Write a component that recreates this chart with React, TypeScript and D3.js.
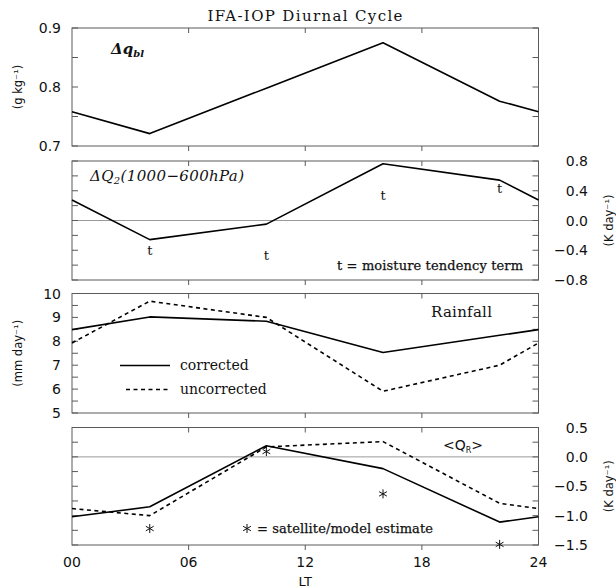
import React from "react";
import * as d3 from "d3";

// ---------- data ----------
const HOURS = [0, 4, 10, 16, 22, 24];
const OBS_HOURS = [4, 10, 16, 22];
const X_TICKS = [0, 6, 12, 18, 24];
const X_TICK_LABELS = ["00", "06", "12", "18", "24"];

const DQBL = [0.758, 0.721, 0.798, 0.875, 0.776, 0.758];
const DQ2 = [0.276, -0.257, -0.049, 0.764, 0.543, 0.276];
const TENDENCY = [-0.4, -0.47, 0.34, 0.43];
const RAIN_CORR = [8.49, 9.02, 8.84, 7.53, 8.25, 8.49];
const RAIN_UNCORR = [7.93, 9.68, 9.0, 5.91, 7.0, 7.93];
const QR_CORR = [-1.02, -0.85, 0.19, -0.2, -1.11, -1.02];
const QR_UNCORR = [-0.88, -1.0, 0.17, 0.26, -0.79, -0.88];
const QR_SAT = [-1.22, 0.09, -0.63, -1.49];

const P1_TICKS = [0.7, 0.75, 0.8, 0.85, 0.9];
const P1_LABELS = [0.7, 0.8, 0.9];
const P2_TICKS = [-0.8, -0.6, -0.4, -0.2, 0, 0.2, 0.4, 0.6, 0.8];
const P2_LABELS = [-0.8, -0.4, 0, 0.4, 0.8];
const P3_TICKS = [5, 5.5, 6, 6.5, 7, 7.5, 8, 8.5, 9, 9.5, 10];
const P3_LABELS = [5, 6, 7, 8, 9, 10];
const P4_TICKS = [-1.5, -1.25, -1, -0.75, -0.5, -0.25, 0, 0.25, 0.5];
const P4_LABELS = [-1.5, -1, -0.5, 0, 0.5];

// ---------- layout ----------
const W = 616;
const H = 588;
const X0 = 72;
const X1 = 538.5;
const BORDER = "#5a5a5a";
const SANS = "DejaVu Sans";
const SERIF = "DejaVu Serif";

const x = d3.scaleLinear().domain([0, 24]).range([X0, X1]);

const y1 = d3.scaleLinear().domain([0.7, 0.9]).range([146, 28]);
const y2 = d3.scaleLinear().domain([-0.8, 0.8]).range([280, 161]);
const y3 = d3.scaleLinear().domain([5, 10]).range([413, 293.5]);
const y4 = d3.scaleLinear().domain([-1.5, 0.5]).range([545, 427.5]);

const fmt1 = d3.format(".1f");

function Frame({ y, ticks, zero }: { y: d3.ScaleLinear<number, number>; ticks: number[]; zero?: boolean }) {
  const [b, t] = y.range();
  return (
    <g>
      {zero && <line x1={X0} x2={X1} y1={y(0)} y2={y(0)} stroke="#9a9a9a" strokeWidth={1} />}
      <rect x={X0} y={t} width={X1 - X0} height={b - t} fill="none" stroke={BORDER} strokeWidth={1} />
      {ticks.map((v) => (
        <g key={"yt" + v}>
          <line x1={X0} x2={X0 + 6} y1={y(v)} y2={y(v)} stroke={BORDER} />
          <line x1={X1 - 6} x2={X1} y1={y(v)} y2={y(v)} stroke={BORDER} />
        </g>
      ))}
      {X_TICKS.slice(1, -1).map((h) => (
        <g key={"xt" + h}>
          <line x1={x(h)} x2={x(h)} y1={t} y2={t + 5} stroke={BORDER} />
          <line x1={x(h)} x2={x(h)} y1={b} y2={b + 5} stroke={BORDER} />
        </g>
      ))}
    </g>
  );
}

function Asterisk({ cx, cy, r = 4.5 }: { cx: number; cy: number; r?: number }) {
  const arms = [90, 30, 150].map((a) => {
    const rad = (a * Math.PI) / 180;
    const dx = r * Math.cos(rad);
    const dy = r * Math.sin(rad);
    return `M${cx - dx},${cy - dy}L${cx + dx},${cy + dy}`;
  });
  return <path d={arms.join("")} stroke="#111" strokeWidth={1} fill="none" />;
}

export default function App() {
  const line = (y: d3.ScaleLinear<number, number>, vals: number[]) =>
    d3
      .line<number>()
      .x((_, i) => x(HOURS[i]))
      .y((v) => y(v))(vals) as string;

  const lineStyle = { fill: "none", stroke: "#000", strokeWidth: 1.6, strokeLinejoin: "round" as const };
  const dash = "4,3.5";

  return (
    <svg width={W} height={H} style={{ position: "absolute", left: 0, top: 0, background: "#fff" }}>
      {/* title */}
      <text x={305} y={21} textAnchor="middle" fontFamily={SERIF} fontSize={15} textLength={195} lengthAdjust="spacing" fill="#111">
        IFA-IOP Diurnal Cycle
      </text>

      {/* Panel 1 */}
      <Frame y={y1} ticks={P1_TICKS} />
      {P1_LABELS.map((v) => (
        <text key={v} x={61} y={y1(v) + 5} textAnchor="end" fontFamily={SANS} fontSize={14} fill="#111">
          {fmt1(v)}
        </text>
      ))}
      <text transform={`translate(22,${y1(0.8)}) rotate(-90)`} textAnchor="middle" fontFamily={SANS} fontSize={11.5} fill="#111">
        (g kg⁻¹)
      </text>
      <path d={line(y1, DQBL)} {...lineStyle} />
      <text x={111} y={54} fontFamily={SERIF} fontSize={15} fontStyle="italic" fontWeight="bold" fill="#111">
        Δq<tspan fontSize={10} dy={3}>bl</tspan>
      </text>

      {/* Panel 2 */}
      <Frame y={y2} ticks={P2_TICKS} zero />
      {P2_LABELS.map((v) => (
        <text key={v} x={588} y={y2(v) + 5} textAnchor="end" fontFamily={SANS} fontSize={14} fill="#111">
          {fmt1(v)}
        </text>
      ))}
      <text transform={`translate(613,${y2(0)}) rotate(-90)`} textAnchor="middle" fontFamily={SANS} fontSize={11.5} fill="#111">
        (K day⁻¹)
      </text>
      <path d={line(y2, DQ2)} {...lineStyle} />
      {OBS_HOURS.map((h, i) => (
        <text key={h} x={x(h)} y={y2(TENDENCY[i]) + 4.5} textAnchor="middle" fontFamily={SERIF} fontSize={13} fill="#111">
          t
        </text>
      ))}
      <text x={90} y={181} fontFamily={SERIF} fontSize={15} fontStyle="italic" textLength={154} lengthAdjust="spacing" fill="#111">
        ΔQ<tspan fontSize={10} dy={3}>2</tspan><tspan dy={-3}>(1000−600hPa)</tspan>
      </text>
      <text x={337} y={270} fontFamily={SERIF} fontSize={13} textLength={186} lengthAdjust="spacing" fill="#111" stroke="#111" strokeWidth={0.25}>
        t = moisture tendency term
      </text>

      {/* Panel 3 */}
      <Frame y={y3} ticks={P3_TICKS} />
      {P3_LABELS.map((v) => (
        <text key={v} x={61} y={y3(v) + 5} textAnchor="end" fontFamily={SANS} fontSize={14} fill="#111">
          {v}
        </text>
      ))}
      <text transform={`translate(22,${y3(7.5)}) rotate(-90)`} textAnchor="middle" fontFamily={SANS} fontSize={11.5} fill="#111">
        (mm day⁻¹)
      </text>
      <path d={line(y3, RAIN_CORR)} {...lineStyle} />
      <path d={line(y3, RAIN_UNCORR)} {...lineStyle} strokeDasharray={dash} />
      <text x={431} y={317} fontFamily={SERIF} fontSize={15} textLength={61} lengthAdjust="spacing" fill="#111">
        Rainfall
      </text>
      <line x1={120} x2={170} y1={365.5} y2={365.5} stroke="#000" strokeWidth={1.6} />
      <text x={180} y={370} fontFamily={SERIF} fontSize={14} fill="#111">
        corrected
      </text>
      <line x1={126} x2={170} y1={389.5} y2={389.5} stroke="#000" strokeWidth={1.6} strokeDasharray={dash} />
      <text x={180} y={394} fontFamily={SERIF} fontSize={14} fill="#111">
        uncorrected
      </text>

      {/* Panel 4 */}
      <Frame y={y4} ticks={P4_TICKS} zero />
      {P4_LABELS.map((v) => (
        <text key={v} x={588} y={y4(v) + 5} textAnchor="end" fontFamily={SANS} fontSize={14} fill="#111">
          {fmt1(v)}
        </text>
      ))}
      <text transform={`translate(613,${y4(-0.5)}) rotate(-90)`} textAnchor="middle" fontFamily={SANS} fontSize={11.5} fill="#111">
        (K day⁻¹)
      </text>
      <path d={line(y4, QR_CORR)} {...lineStyle} />
      <path d={line(y4, QR_UNCORR)} {...lineStyle} strokeDasharray={dash} />
      {OBS_HOURS.map((h, i) => (
        <Asterisk key={h} cx={x(h)} cy={y4(QR_SAT[i])} />
      ))}
      <text x={443} y={450} fontFamily={SANS} fontSize={14} fill="#111">
        {"<Q"}
        <tspan fontSize={8} dy={3}>R</tspan>
        <tspan dy={-3}>{">"}</tspan>
      </text>
      <Asterisk cx={247} cy={528.5} />
      <text x={257} y={533} fontFamily={SERIF} fontSize={13} textLength={176} lengthAdjust="spacing" fill="#111" stroke="#111" strokeWidth={0.25}>
        = satellite/model estimate
      </text>

      {/* x axis labels */}
      {X_TICKS.map((h, i) => (
        <text key={h} x={x(h)} y={567} textAnchor="middle" fontFamily={SANS} fontSize={14} fill="#111">
          {X_TICK_LABELS[i]}
        </text>
      ))}
      <text x={x(12)} y={586} textAnchor="middle" fontFamily={SANS} fontSize={13} fill="#111">
        LT
      </text>
    </svg>
  );
}
